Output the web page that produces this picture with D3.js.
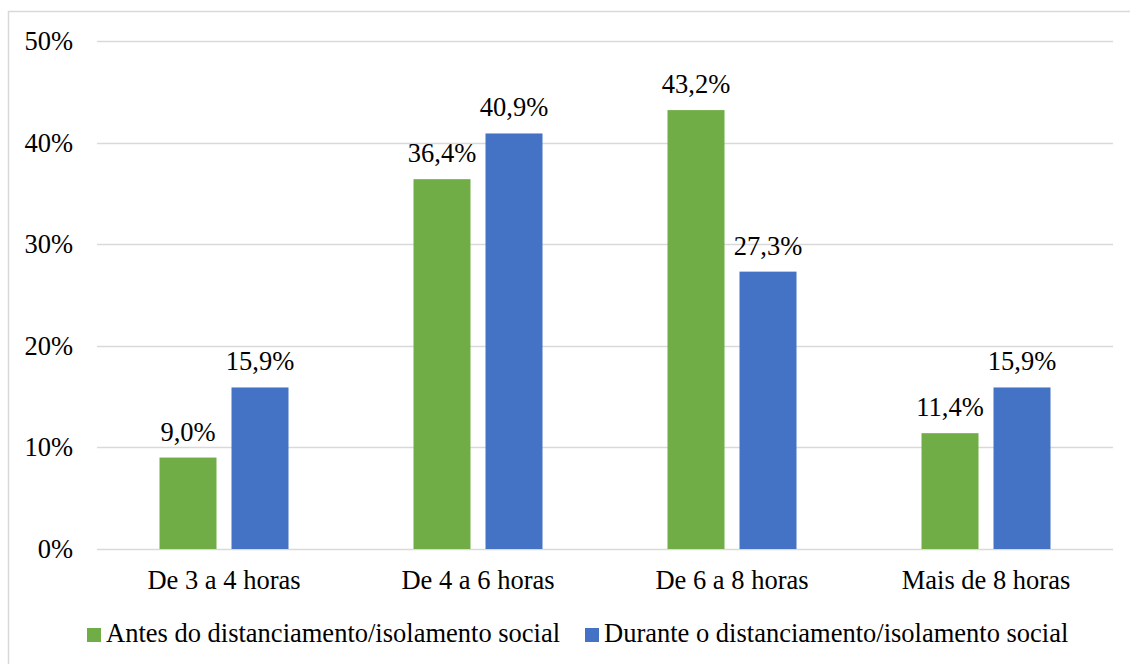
<!DOCTYPE html>
<html>
<head>
<meta charset="utf-8">
<script src="https://cdn.jsdelivr.net/npm/d3@7"></script>
<style>
  body { margin: 0; background: #fff; }
</style>
</head>
<body>
<svg id="chart" width="1130" height="664"></svg>
<script>
const categories = ['De 3 a 4 horas', 'De 4 a 6 horas', 'De 6 a 8 horas', 'Mais de 8 horas'];
const seriesNames = ['Antes do distanciamento/isolamento social', 'Durante o distanciamento/isolamento social'];
const antes = [9.0, 36.4, 43.2, 11.4];
const durante = [15.9, 40.9, 27.3, 15.9];
const yTicks = [0, 10, 20, 30, 40, 50];
const colors = ['#70AD47', '#4472C4'];

const svg = d3.select('#chart')
  .attr('font-family', 'Liberation Serif, Times New Roman, serif');
const margin = { left: 97, right: 17, top: 41, bottom: 115 };
const width = 1130, height = 664;
const fs = 26.5;

// moldura
svg.append('rect')
  .attr('x', 8.5).attr('y', 11.5)
  .attr('width', 1140).attr('height', 700)
  .attr('fill', 'none').attr('stroke', '#d9d9d9').attr('stroke-width', 1.5);

const x = d3.scaleBand()
  .domain(categories)
  .range([margin.left, width - margin.right]);

const y = d3.scaleLinear()
  .domain([0, 50])
  .range([height - margin.bottom, margin.top]);

// linhas de grade
svg.append('g')
  .selectAll('line')
  .data(yTicks)
  .join('line')
  .attr('x1', margin.left).attr('x2', width - margin.right)
  .attr('y1', d => Math.round(y(d)) + 0.5).attr('y2', d => Math.round(y(d)) + 0.5)
  .attr('stroke', '#d9d9d9').attr('stroke-width', 1.5);

// eixo y
svg.append('g')
  .selectAll('text')
  .data(yTicks)
  .join('text')
  .attr('x', 73).attr('y', d => y(d) + 9)
  .attr('text-anchor', 'end')
  .attr('font-size', fs)
  .text(d => d + '%');

// barras
const barW = 57, gap = 15;
const rows = categories.map((c, i) => [
  { cat: c, s: 0, v: antes[i] },
  { cat: c, s: 1, v: durante[i] }
]).flat();

const barX = d => x(d.cat) + x.bandwidth() / 2 + (d.s === 0 ? -gap / 2 - barW : gap / 2);

svg.append('g')
  .selectAll('rect')
  .data(rows)
  .join('rect')
  .attr('x', barX)
  .attr('y', d => y(d.v))
  .attr('width', barW)
  .attr('height', d => y(0) - y(d.v))
  .attr('fill', d => colors[d.s]);

// rótulos
svg.append('g')
  .selectAll('text')
  .data(rows)
  .join('text')
  .attr('x', d => barX(d) + barW / 2)
  .attr('y', d => y(d.v) - 17)
  .attr('text-anchor', 'middle')
  .attr('font-size', fs)
  .text(d => d.v.toFixed(1).replace('.', ',') + '%');

// eixo x
svg.append('g')
  .selectAll('text')
  .data(categories)
  .join('text')
  .attr('x', d => x(d) + x.bandwidth() / 2)
  .attr('y', 589)
  .attr('text-anchor', 'middle')
  .attr('font-size', fs)
  .text(d => d);

// legenda
const leg = svg.append('g');
const legX = [87, 585];
seriesNames.forEach((n, i) => {
  leg.append('rect')
    .attr('x', legX[i]).attr('y', 628)
    .attr('width', 14).attr('height', 14)
    .attr('fill', colors[i]);
  leg.append('text')
    .attr('x', legX[i] + 19).attr('y', 642)
    .attr('font-size', fs)
    .text(n);
});
</script>
</body>
</html>
